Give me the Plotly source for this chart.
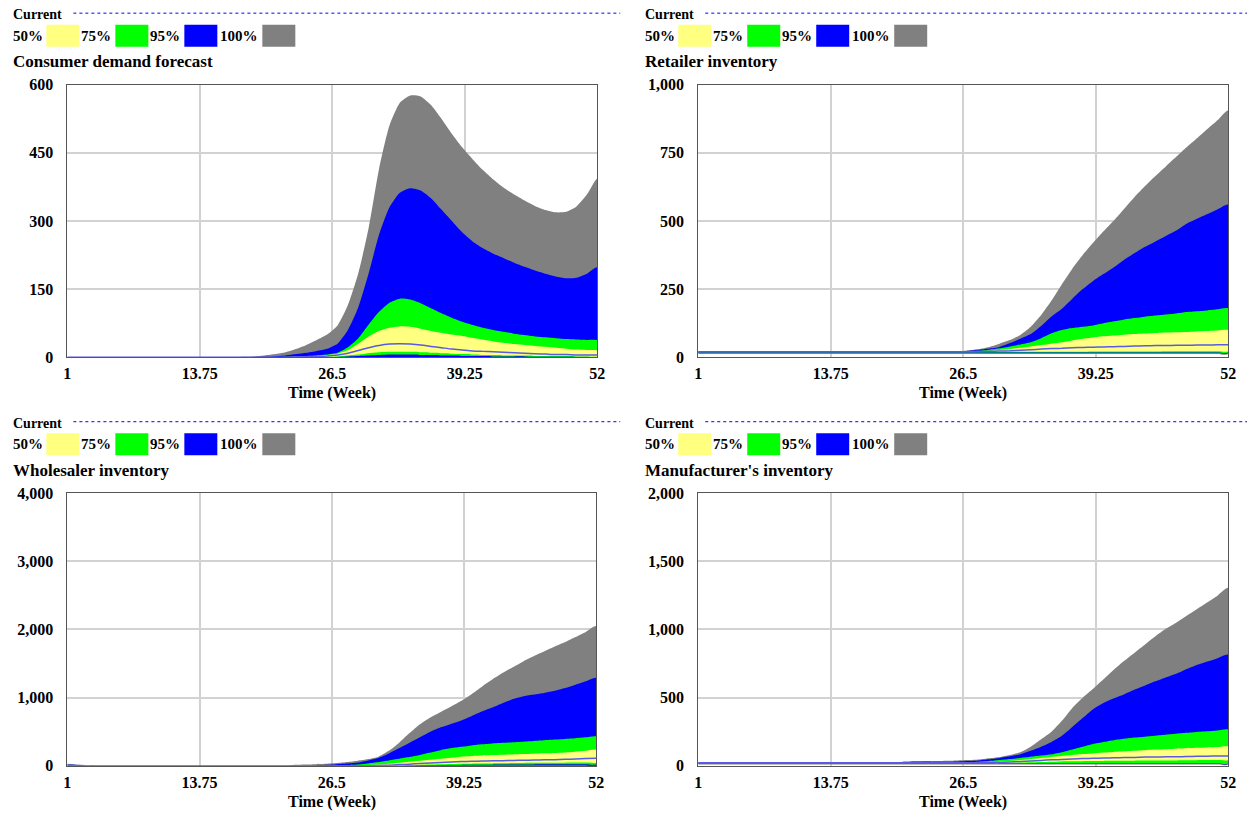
import plotly.graph_objects as go

# page is rendered with the browser's default 8px body margin
PAGE_W, PAGE_H, PAD = 1255, 813, 8
W, H = PAGE_W - 2 * PAD, PAGE_H - 2 * PAD + 10
# measured screen mapping of page coordinates (screen = A + S * page)
AX, SX = 3.7, 0.9905
AY, SY = 7.5, 0.980

weeks = list(range(1, 53))
x_tickvals = [1, 13.75, 26.5, 39.25, 52]
x_ticktext = ["1", "13.75", "26.5", "39.25", "52"]
band_labels = ["50%", "75%", "95%", "100%"]

# ---------------- Consumer demand forecast ----------------
cdf_max = [0]*17 + [1, 2, 4, 7, 11, 18, 27, 38, 50, 70, 115, 185, 285, 415, 510, 560, 576, 574, 555, 525, 492, 462, 436, 412, 391, 373, 358, 345, 333, 324, 319, 320, 332, 358, 393]
cdf_p975 = [0]*19 + [1, 2, 4, 7, 10, 14, 19, 30, 60, 110, 185, 270, 330, 362, 372, 367, 350, 325, 300, 275, 255, 240, 228, 218, 208, 199, 191, 184, 178, 174, 175, 184, 198]
cdf_p875 = [0]*21 + [1, 2, 3, 4, 6, 10, 22, 42, 72, 100, 120, 129, 127, 119, 108, 97, 87, 78, 71, 65, 60, 56, 52, 49, 46, 44, 42, 40, 39, 38, 37]
cdf_p75 = [0]*22 + [1, 2, 3, 5, 8, 16, 30, 46, 58, 65, 68, 67, 63, 58, 54, 50, 47, 43, 39, 35, 32, 29, 27, 25, 23, 21, 19, 17, 16, 15]
cdf_cur = [0]*22 + [1, 1, 2, 3, 5, 9, 15, 21, 26, 29, 30, 29, 27, 24, 21, 18, 16, 14, 13, 12, 11, 10, 9, 8, 7, 6, 6, 5, 5, 5]
cdf_p25 = [0]*24 + [1, 1, 2, 4, 6, 9, 11, 12, 12, 12, 11, 10, 9, 8, 7, 6, 5, 5, 4, 4, 4, 3, 3, 3, 3, 2, 2, 2]
cdf_p125 = [0]*26 + [1, 2, 3, 4, 5, 6, 6, 6, 5, 5, 4, 4, 3, 3, 3, 2, 2, 2, 2, 1, 1, 1, 1, 1, 1, 1]
cdf_p025 = [0]*52
cdf_min = [0]*52

# ---------------- Retailer inventory ----------------
ri_max = [22]*26 + [25, 30, 38, 50, 63, 82, 112, 155, 208, 268, 325, 375, 420, 462, 502, 545, 588, 628, 665, 700, 735, 770, 803, 837, 870, 905]
ri_p975 = [22]*26 + [24, 27, 32, 38, 52, 68, 85, 115, 150, 178, 215, 250, 280, 305, 330, 358, 382, 405, 425, 445, 465, 490, 508, 525, 543, 560]
ri_p875 = [21]*26 + [22, 24, 28, 33, 40, 47, 55, 70, 88, 100, 107, 112, 117, 125, 132, 139, 144, 149, 153, 157, 161, 166, 169, 172, 176, 179]
ri_p75 = [21]*27 + [22, 24, 27, 30, 35, 40, 45, 50, 55, 62, 68, 73, 77, 80, 83, 85, 87, 89, 91, 92, 93, 95, 96, 98, 99]
ri_cur = [20]*27 + [21, 22, 23, 24, 26, 28, 30, 32, 33, 35, 36, 37, 38, 39, 40, 41, 42, 43, 43, 44, 44, 45, 45, 46, 46]
ri_p25 = [19]*30 + [20]*8 + [21]*7 + [22]*7
ri_p125 = [18]*52
ri_p025 = [16]*52
ri_min = [12]*52

# ---------------- Wholesaler inventory ----------------
wi_max = [30, 15] + [0]*20 + [15, 20, 25, 30, 40, 55, 75, 100, 135, 220, 340, 480, 610, 710, 790, 870, 955, 1055, 1165, 1270, 1365, 1450, 1535, 1610, 1680, 1750, 1815, 1890, 1965, 2050]
wi_p975 = [25, 12] + [0]*22 + [5, 15, 25, 35, 50, 80, 115, 180, 260, 340, 420, 500, 565, 615, 665, 730, 800, 855, 920, 980, 1020, 1045, 1070, 1100, 1140, 1190, 1240, 1290]
wi_p875 = [20, 10] + [0]*24 + [5, 12, 20, 35, 55, 80, 105, 130, 160, 195, 230, 260, 280, 300, 315, 328, 338, 347, 355, 365, 375, 385, 395, 405, 418, 430]
wi_p75 = [15, 8] + [0]*26 + [5, 12, 20, 30, 45, 60, 75, 90, 105, 120, 135, 145, 152, 158, 163, 168, 173, 178, 183, 188, 196, 207, 220, 234]
wi_cur = [10, 5] + [0]*28 + [5, 10, 18, 25, 33, 40, 48, 55, 62, 66, 70, 73, 76, 79, 82, 85, 88, 91, 95, 100, 106, 112]
wi_p25 = [8, 4] + [0]*29 + [3, 6, 10, 14, 18, 22, 26, 30, 32, 34, 36, 38, 40, 42, 44, 45, 46, 47, 48, 49, 50]
wi_p125 = [5, 2] + [0]*30 + [2, 4, 6, 8, 10, 12, 14, 15, 16, 17, 18, 19, 20, 21, 22, 23, 23, 24, 24, 25]
wi_p025 = [0]*52
wi_min = [0]*52

# ---------------- Manufacturer's inventory ----------------
mi_max = [28]*20 + [30, 32, 34, 36, 38, 40, 42, 46, 55, 65, 80, 100, 140, 195, 250, 330, 425, 500, 565, 635, 705, 770, 830, 890, 950, 1005, 1050, 1100, 1150, 1200, 1250, 1305]
mi_p975 = [26]*20 + [30, 32, 32, 30, 30, 32, 35, 40, 48, 58, 70, 85, 110, 140, 175, 220, 285, 350, 415, 460, 495, 525, 560, 590, 620, 648, 675, 710, 740, 765, 790, 815]
mi_p875 = [25]*26 + [27, 30, 35, 42, 50, 58, 66, 75, 85, 100, 120, 140, 160, 175, 188, 198, 207, 214, 221, 228, 235, 242, 248, 253, 259, 265]
mi_p75 = [25]*28 + [27, 30, 35, 42, 50, 58, 65, 72, 79, 86, 91, 97, 102, 107, 111, 115, 119, 122, 126, 129, 132, 135, 138, 141]
mi_cur = [22]*29 + [25, 28, 32, 36, 40, 44, 47, 50, 53, 55, 57, 59, 61, 62, 64, 65, 66, 67, 68, 70, 71, 72, 73]
mi_p25 = [20]*30 + [22, 24, 26, 28, 30, 32, 33, 34, 35, 36, 37, 38, 38, 39, 39, 40, 40, 41, 41, 42, 42, 43]
mi_p125 = [18]*52
mi_p025 = [15]*52
mi_min = [10]*52

panels = [
    dict(title="Consumer demand forecast", data=(cdf_min, cdf_p025, cdf_p125, cdf_p25, cdf_cur, cdf_p75, cdf_p875, cdf_p975, cdf_max),
         ymax=600, yticks=[0, 150, 300, 450, 600], x0=67, x1=597, y0=84, y1=357, hx=12, hy=0),
    dict(title="Retailer inventory", data=(ri_min, ri_p025, ri_p125, ri_p25, ri_cur, ri_p75, ri_p875, ri_p975, ri_max),
         ymax=1000, yticks=[0, 250, 500, 750, 1000], x0=698, x1=1228, y0=84, y1=357, hx=644, hy=0),
    dict(title="Wholesaler inventory", data=(wi_min, wi_p025, wi_p125, wi_p25, wi_cur, wi_p75, wi_p875, wi_p975, wi_max),
         ymax=4000, yticks=[0, 1000, 2000, 3000, 4000], x0=67, x1=596, y0=493, y1=766, hx=12, hy=409),
    dict(title="Manufacturer's inventory", data=(mi_min, mi_p025, mi_p125, mi_p25, mi_cur, mi_p75, mi_p875, mi_p975, mi_max),
         ymax=2000, yticks=[0, 500, 1000, 1500, 2000], x0=698, x1=1228, y0=493, y1=766, hx=644, hy=409),
]

YELLOW, GREEN, BLUE, GRAY = "#FFFF80", "#00FF00", "#0000FF", "#808080"
CUR = "#5a5ae6"
FONT = "Liberation Serif"


def px(x):
    page = (x - AX) / SX
    return (page - PAD) / W


def py(y):
    page = (y - AY) / SY
    return 1 - (page - PAD) / H


fig = go.Figure()
shapes, annotations = [], []

for i, p in enumerate(panels, start=1):
    xa = "x" if i == 1 else f"x{i}"
    ya = "y" if i == 1 else f"y{i}"
    mn, p025, p125, p25, cur, p75, p875, p975, mx = p["data"]
    bands = [(mn, mx, GRAY), (p025, p975, BLUE), (p125, p875, GREEN), (p25, p75, YELLOW)]
    for lo, hi, col in bands:
        fig.add_trace(go.Scatter(
            x=weeks + weeks[::-1], y=hi + lo[::-1], fill="toself", fillcolor=col,
            mode="lines", line=dict(width=0, color=col, shape="spline", smoothing=0.6),
            xaxis=xa, yaxis=ya, hoverinfo="skip", showlegend=False))
    fig.add_trace(go.Scatter(x=weeks, y=cur, mode="lines",
                             line=dict(color=CUR, width=1.5, shape="spline", smoothing=0.6),
                             xaxis=xa, yaxis=ya, showlegend=False, name="Current"))

    axfont = dict(family=FONT, size=16, color="black", weight=700)
    xkey = "xaxis" if i == 1 else f"xaxis{i}"
    ykey = "yaxis" if i == 1 else f"yaxis{i}"
    fig.update_layout(**{
        xkey: dict(domain=[px(p["x0"]), px(p["x1"])], anchor=ya, range=[1, 52],
                   tickvals=x_tickvals, ticktext=x_ticktext, showgrid=True,
                   gridcolor="#d2d2d2", gridwidth=1.5, zeroline=False, showline=True,
                   linecolor="#555555", linewidth=1, mirror=True, ticks="",
                   tickfont=axfont, ticklabelstandoff=2),
        ykey: dict(domain=[py(p["y1"]), py(p["y0"])], anchor=xa, range=[0, p["ymax"]],
                   tickvals=p["yticks"], tickformat=",d", showgrid=True,
                   gridcolor="#d2d2d2", gridwidth=1.5, zeroline=False, showline=True,
                   linecolor="#555555", linewidth=1, mirror=True, ticks="",
                   tickfont=axfont, ticklabelstandoff=10),
    })

    hx, hy = p["hx"], p["hy"]
    annotations.append(dict(text="Current", x=px(hx - 1), y=py(hy + 14), xref="paper", yref="paper",
                            xanchor="left", yanchor="middle", showarrow=False,
                            font=dict(family=FONT, size=14, color="black", weight=700)))
    shapes.append(dict(type="line", xref="paper", yref="paper", x0=px(hx + 61), x1=px(hx + 608),
                       y0=py(hy + 12.5), y1=py(hy + 12.5), line=dict(color="#0000ff", width=1, dash="dot")))
    label_x = [0, 68, 137, 207]
    box_x = [34, 103, 172, 250]
    for lab, lx, bx, col in zip(band_labels, label_x, box_x, [YELLOW, GREEN, BLUE, GRAY]):
        annotations.append(dict(text=lab, x=px(hx + lx - 1), y=py(hy + 35), xref="paper", yref="paper",
                                xanchor="left", yanchor="middle", showarrow=False,
                                font=dict(family=FONT, size=15, color="black", weight=700)))
        shapes.append(dict(type="rect", xref="paper", yref="paper", x0=px(hx + bx), x1=px(hx + bx + 33),
                           y0=py(hy + 46), y1=py(hy + 24), fillcolor=col, line=dict(width=0)))
    annotations.append(dict(text=p["title"], x=px(hx - 1), y=py(hy + 61), xref="paper", yref="paper",
                            xanchor="left", yanchor="middle", showarrow=False,
                            font=dict(family=FONT, size=17, color="black", weight=700)))
    annotations.append(dict(text="Time (Week)", x=px((p["x0"] + p["x1"]) / 2), y=py(p["y1"] + 36),
                            xref="paper", yref="paper", xanchor="center", yanchor="middle",
                            showarrow=False, font=dict(family=FONT, size=16, color="black", weight=700)))

fig.update_layout(width=W, height=H, margin=dict(l=0, r=0, t=0, b=0),
                  paper_bgcolor="white", plot_bgcolor="white",
                  shapes=shapes, annotations=annotations, showlegend=False)

fig.write_html("out.html", config={"displayModeBar": False})
